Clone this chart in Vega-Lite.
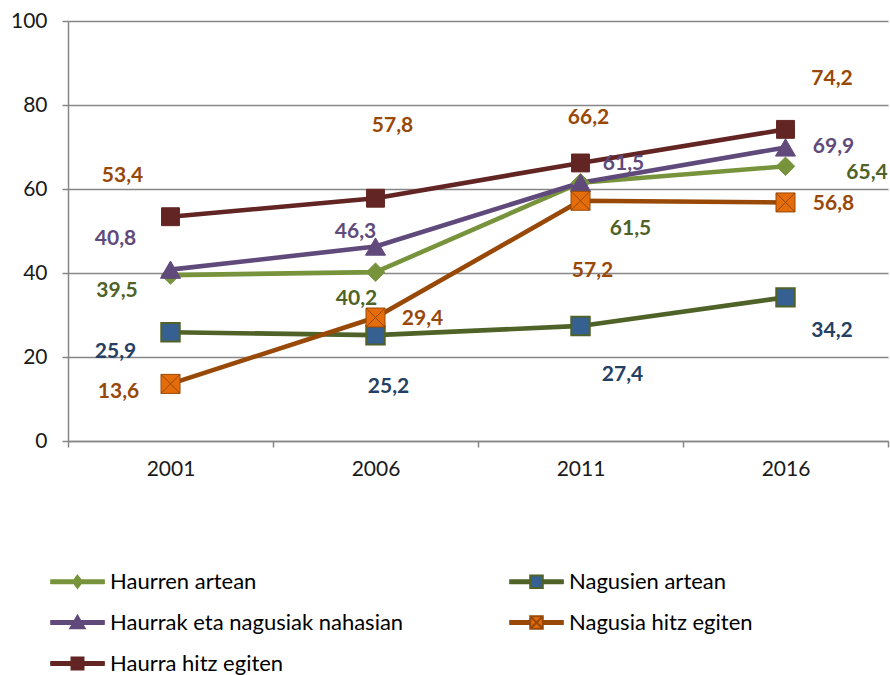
{
  "$schema": "https://vega.github.io/schema/vega-lite/v6.json",
  "autosize": {"type": "none"},
  "padding": {"left": 68, "top": 21, "right": 2, "bottom": 234},
  "width": 820,
  "height": 420,
  "background": "white",
  "config": {
    "view": {"stroke": null},
    "locale": {"number": {"decimal": ",", "thousands": ".", "grouping": [3], "currency": ["", " €"]}},
    "font": "Lato"
  },
  "data": {"values": [
    {"year": "2001", "series": "Haurren artean", "value": 39.5},
    {"year": "2006", "series": "Haurren artean", "value": 40.2},
    {"year": "2011", "series": "Haurren artean", "value": 61.5},
    {"year": "2016", "series": "Haurren artean", "value": 65.4},
    {"year": "2001", "series": "Nagusien artean", "value": 25.9},
    {"year": "2006", "series": "Nagusien artean", "value": 25.2},
    {"year": "2011", "series": "Nagusien artean", "value": 27.4},
    {"year": "2016", "series": "Nagusien artean", "value": 34.2},
    {"year": "2001", "series": "Haurrak eta nagusiak nahasian", "value": 40.8},
    {"year": "2006", "series": "Haurrak eta nagusiak nahasian", "value": 46.3},
    {"year": "2011", "series": "Haurrak eta nagusiak nahasian", "value": 61.5},
    {"year": "2016", "series": "Haurrak eta nagusiak nahasian", "value": 69.9},
    {"year": "2001", "series": "Nagusia hitz egiten", "value": 13.6},
    {"year": "2006", "series": "Nagusia hitz egiten", "value": 29.4},
    {"year": "2011", "series": "Nagusia hitz egiten", "value": 57.2},
    {"year": "2016", "series": "Nagusia hitz egiten", "value": 56.8},
    {"year": "2001", "series": "Haurra hitz egiten", "value": 53.4},
    {"year": "2006", "series": "Haurra hitz egiten", "value": 57.8},
    {"year": "2011", "series": "Haurra hitz egiten", "value": 66.2},
    {"year": "2016", "series": "Haurra hitz egiten", "value": 74.2}
  ]},
  "encoding": {
    "x": {
      "field": "year", "type": "ordinal", "title": null,
      "scale": {"type": "band", "paddingInner": 0, "paddingOuter": 0},
      "axis": {
        "labelAngle": 0, "labelFont": "Lato", "labelFontSize": 21, "labelColor": "#1a1a1a",
        "labelPadding": 11, "tickBand": "extent", "tickSize": 6, "tickColor": "#868686", "tickWidth": 1.5,
        "domainColor": "#868686", "domainWidth": 1.5, "grid": false
      }
    },
    "y": {
      "field": "value", "type": "quantitative", "title": null,
      "scale": {"domain": [0, 100], "nice": false, "zero": true},
      "axis": {
        "values": [0, 20, 40, 60, 80, 100], "labelFont": "Lato", "labelFontSize": 21, "labelColor": "#1a1a1a",
        "labelPadding": 15, "tickSize": 6, "tickColor": "#868686", "tickWidth": 1.5,
        "domainColor": "#868686", "domainWidth": 1.5,
        "grid": true, "gridColor": "#868686", "gridWidth": 1.3
      }
    }
  },
  "layer": [
    {
      "mark": {"type": "line", "strokeWidth": 4.6, "strokeJoin": "round", "strokeCap": "round"},
      "encoding": {
        "color": {
          "field": "series", "type": "nominal",
          "scale": {
            "domain": ["Haurren artean", "Nagusien artean", "Haurrak eta nagusiak nahasian", "Nagusia hitz egiten", "Haurra hitz egiten"],
            "range": ["#77933C", "#4F6228", "#604A7B", "#984807", "#632523"]
          },
          "legend": {
            "title": null, "orient": "none", "legendX": -20, "legendY": 531, "direction": "horizontal",
            "columns": 2, "columnPadding": 101, "rowPadding": -1, "padding": 0, "offset": 0,
            "labelFont": "Lato", "labelFontSize": 22, "labelColor": "#000000", "labelOffset": 3, "labelLimit": 0,
            "symbolSize": 3249, "symbolStrokeWidth": 2,
            "encode": {
              "symbols": {
                "update": {
                  "size": {"value": 3249},
                  "strokeWidth": {"value": 2},
                  "strokeCap": {"value": "round"},
                  "opacity": {"value": 1},
                  "fillOpacity": {"value": 1},
                  "strokeOpacity": {"value": 1},
                  "shape": {"signal": "datum.value === 'Haurren artean' ? 'M-0.93,-0.05H-0.16M-0.93,0H-0.16M-0.93,0.05H-0.16M0.16,-0.05H0.93M0.16,0H0.93M0.16,0.05H0.93M0,-0.21L0.16,0L0,0.21L-0.16,0Z' : datum.value === 'Nagusien artean' ? 'M-0.93,-0.05H-0.22M-0.93,0H-0.22M-0.93,0.05H-0.22M0.22,-0.05H0.93M0.22,0H0.93M0.22,0.05H0.93M-0.22,-0.22H0.22V0.22H-0.22Z' : datum.value === 'Haurrak eta nagusiak nahasian' ? 'M-0.93,-0.05H-0.14M-0.93,0H-0.14M-0.93,0.05H-0.14M0.14,-0.05H0.93M0.14,0H0.93M0.14,0.05H0.93M0,-0.24L0.25,0.2L-0.25,0.2Z' : datum.value === 'Nagusia hitz egiten' ? 'M-0.93,-0.05H-0.22M-0.93,0H-0.22M-0.93,0.05H-0.22M0.22,-0.05H0.93M0.22,0H0.93M0.22,0.05H0.93M-0.22,-0.22H0.22V0.22H-0.22ZM-0.22,-0.22L0.22,0.22M0.22,-0.22L-0.22,0.22' : 'M-0.93,-0.05H-0.21M-0.93,0H-0.21M-0.93,0.05H-0.21M0.21,-0.05H0.93M0.21,0H0.93M0.21,0.05H0.93M-0.21,-0.21H0.21V0.21H-0.21Z'"},
                  "fill": {"signal": "datum.value === 'Haurren artean' ? '#77933C' : datum.value === 'Nagusien artean' ? '#376092' : datum.value === 'Haurrak eta nagusiak nahasian' ? '#604A7B' : datum.value === 'Nagusia hitz egiten' ? '#E46C0A' : '#632523'"},
                  "stroke": {"signal": "datum.value === 'Haurren artean' ? '#77933C' : datum.value === 'Nagusien artean' ? '#4F6228' : datum.value === 'Haurrak eta nagusiak nahasian' ? '#604A7B' : datum.value === 'Nagusia hitz egiten' ? '#984807' : '#632523'"}
                }
              }
            }
          }
        }
      }
    },
    {
      "transform": [{"filter": "datum.series === 'Haurren artean'"}],
      "mark": {"type": "point", "shape": "diamond", "filled": true, "size": 340, "fill": "#77933C", "stroke": "#77933C", "strokeWidth": 1, "opacity": 1}
    },
    {
      "transform": [{"filter": "datum.series === 'Nagusien artean'"}],
      "mark": {"type": "point", "shape": "square", "filled": true, "size": 340, "fill": "#376092", "stroke": "#4F6228", "strokeWidth": 2, "opacity": 1}
    },
    {
      "transform": [{"filter": "datum.series === 'Haurrak eta nagusiak nahasian'"}],
      "mark": {"type": "point", "shape": "triangle-up", "filled": true, "size": 400, "fill": "#604A7B", "stroke": "#604A7B", "strokeWidth": 1, "opacity": 1}
    },
    {
      "transform": [{"filter": "datum.series === 'Nagusia hitz egiten'"}],
      "mark": {"type": "point", "shape": "M-1,-1H1V1H-1ZM-1,-1L1,1M1,-1L-1,1", "filled": true, "size": 361, "fill": "#E46C0A", "stroke": "#984807", "strokeWidth": 1, "opacity": 1}
    },
    {
      "transform": [{"filter": "datum.series === 'Haurra hitz egiten'"}],
      "mark": {"type": "point", "shape": "square", "filled": true, "size": 320, "fill": "#632523", "stroke": "#632523", "strokeWidth": 1, "opacity": 1}
    },
    {
      "transform": [{"filter": "datum.series === 'Haurren artean'"}],
      "mark": {"type": "text", "font": "Lato", "fontWeight": "bold", "fontSize": 21, "fill": "#4F6228",
        "dx": {"expr": "datum.year === '2001' ? -53.5 : datum.year === '2006' ? -19 : datum.year === '2011' ? 50 : 81.5"},
        "dy": {"expr": "datum.year === '2001' ? 15.5 : datum.year === '2006' ? 27 : datum.year === '2011' ? 46 : 6.5"}},
      "encoding": {"text": {"field": "value", "type": "quantitative", "format": ".1f"}}
    },
    {
      "transform": [{"filter": "datum.series === 'Nagusien artean'"}],
      "mark": {"type": "text", "font": "Lato", "fontWeight": "bold", "fontSize": 21, "fill": "#244062",
        "dx": {"expr": "datum.year === '2001' ? -55 : datum.year === '2006' ? 13 : datum.year === '2011' ? 42 : 46.5"},
        "dy": {"expr": "datum.year === '2001' ? 19.5 : datum.year === '2006' ? 52 : datum.year === '2011' ? 49 : 34"}},
      "encoding": {"text": {"field": "value", "type": "quantitative", "format": ".1f"}}
    },
    {
      "transform": [{"filter": "datum.series === 'Haurrak eta nagusiak nahasian'"}],
      "mark": {"type": "text", "font": "Lato", "fontWeight": "bold", "fontSize": 21, "fill": "#604A7B",
        "dx": {"expr": "datum.year === '2001' ? -55 : datum.year === '2006' ? -20 : datum.year === '2011' ? 43 : 48"},
        "dy": {"expr": "datum.year === '2001' ? -31 : datum.year === '2006' ? -14.5 : datum.year === '2011' ? -19 : 0"}},
      "encoding": {"text": {"field": "value", "type": "quantitative", "format": ".1f"}}
    },
    {
      "transform": [{"filter": "datum.series === 'Nagusia hitz egiten'"}],
      "mark": {"type": "text", "font": "Lato", "fontWeight": "bold", "fontSize": 21, "fill": "#984807",
        "dx": {"expr": "datum.year === '2001' ? -52 : datum.year === '2006' ? 47 : datum.year === '2011' ? 12 : 48"},
        "dy": {"expr": "datum.year === '2001' ? 8 : datum.year === '2006' ? 1.5 : datum.year === '2011' ? 70 : 1.6"}},
      "encoding": {"text": {"field": "value", "type": "quantitative", "format": ".1f"}}
    },
    {
      "transform": [{"filter": "datum.series === 'Haurra hitz egiten'"}],
      "mark": {"type": "text", "font": "Lato", "fontWeight": "bold", "fontSize": 21, "fill": "#984807",
        "dx": {"expr": "datum.year === '2001' ? -48 : datum.year === '2006' ? 17 : datum.year === '2011' ? 8 : 46.5"},
        "dy": {"expr": "datum.year === '2001' ? -41 : datum.year === '2006' ? -72 : datum.year === '2011' ? -45 : -50"}},
      "encoding": {"text": {"field": "value", "type": "quantitative", "format": ".1f"}}
    }
  ]
}
